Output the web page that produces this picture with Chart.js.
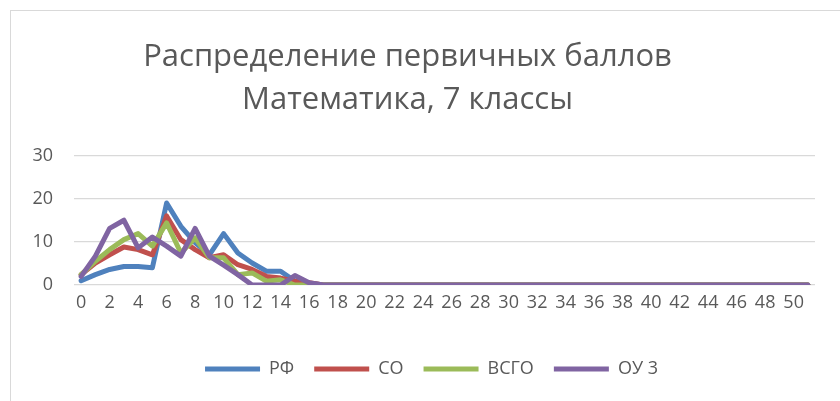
<!DOCTYPE html>
<html>
<head>
<meta charset="utf-8">
<script src="https://cdn.jsdelivr.net/npm/chart.js@4.4.1/dist/chart.umd.min.js"></script>
<style>
  html, body { margin: 0; padding: 0; background: #fff; }
  #wrap { position: relative; width: 840px; height: 401px; overflow: hidden; }
  #frame { position: absolute; left: 10px; top: 10px; width: 900px; height: 500px; border: 1px solid #d9d9d9; box-sizing: border-box; pointer-events: none; }
  canvas { position: absolute; left: 0; top: 0; }
</style>
</head>
<body>
<div id="wrap">
  <canvas id="c" width="840" height="401"></canvas>
  <div id="frame"></div>
</div>
<script>
const categories = Array.from({length: 52}, (_, i) => String(i));
const seriesNames = ['РФ', 'СО', 'ВСГО', 'ОУ 3'];
const rf   = [1.0, 2.4, 3.6, 4.3, 4.3, 4.0, 19.0, 13.6, 9.8, 7.0, 11.9, 7.4, 5.1, 3.2, 3.2, 0.9, 0.4, 0, 0, 0, 0, 0, 0, 0, 0, 0, 0, 0, 0, 0, 0, 0, 0, 0, 0, 0, 0, 0, 0, 0, 0, 0, 0, 0, 0, 0, 0, 0, 0, 0, 0, 0];
const so   = [2.4, 5.1, 7.0, 8.8, 8.2, 7.0, 16.0, 10.5, 8.2, 6.3, 7.0, 4.7, 3.6, 2.0, 1.6, 0.9, 0.5, 0, 0, 0, 0, 0, 0, 0, 0, 0, 0, 0, 0, 0, 0, 0, 0, 0, 0, 0, 0, 0, 0, 0, 0, 0, 0, 0, 0, 0, 0, 0, 0, 0, 0, 0];
const vsgo = [2.4, 5.5, 8.2, 10.5, 11.9, 9.0, 14.4, 7.4, 10.9, 6.3, 6.3, 2.4, 2.8, 0.9, 1.2, 0, 0, 0, 0, 0, 0, 0, 0, 0, 0, 0, 0, 0, 0, 0, 0, 0, 0, 0, 0, 0, 0, 0, 0, 0, 0, 0, 0, 0, 0, 0, 0, 0, 0, 0, 0, 0];
const ou3  = [2.0, 6.7, 13.1, 15.0, 8.6, 11.1, 9.0, 6.7, 13.1, 6.7, 4.6, 2.4, 0, 0, 0, 2.2, 0.5, 0, 0, 0, 0, 0, 0, 0, 0, 0, 0, 0, 0, 0, 0, 0, 0, 0, 0, 0, 0, 0, 0, 0, 0, 0, 0, 0, 0, 0, 0, 0, 0, 0, 0, 0];
const yTicks = [0, 10, 20, 30];
const titleLines = ['Распределение первичных баллов', 'Математика, 7 классы'];

const colors = ['#4f81bd', '#c0504d', '#9bbb59', '#8064a2'];
const values = [rf, so, vsgo, ou3];
const FONT = "'Open Sans', sans-serif";
const TXT = '#595959';

const datasets = seriesNames.map((name, k) => ({
  label: name,
  data: values[k],
  borderColor: colors[k],
  backgroundColor: colors[k],
  borderWidth: 5,
  borderCapStyle: 'round',
  borderJoinStyle: 'round',
  pointRadius: 0,
  pointHoverRadius: 0,
  tension: 0,
  fill: false,
  order: 4 - k
}));

const shiftLegend = {
  id: 'shiftLegend',
  afterLayout(chart) {
    if (chart.legend) { chart.legend.left += 24; chart.legend.right += 24; }
  }
};

new Chart(document.getElementById('c'), {
  type: 'line',
  data: { labels: categories, datasets },
  plugins: [shiftLegend],
  options: {
    responsive: false,
    animation: false,
    layout: { padding: { left: 0, right: 25, top: 0, bottom: 13 } },
    plugins: {
      title: {
        display: true,
        text: titleLines,
        color: TXT,
        font: { family: FONT, size: 31, weight: 'normal', lineHeight: 1.387 },
        padding: { top: 35.5, bottom: 34 }
      },
      legend: {
        position: 'bottom',
        labels: {
          color: TXT,
          font: { family: FONT, size: 18 },
          usePointStyle: true,
          pointStyle: 'line',
          pointStyleWidth: 55,
          boxHeight: 18,
          padding: 20,
          sort: (a, b) => a.datasetIndex - b.datasetIndex
        }
      },
      tooltip: { enabled: false }
    },
    scales: {
      x: {
        offset: true,
        grid: { display: false, drawTicks: false },
        border: { display: false },
        ticks: {
          color: TXT,
          font: { family: FONT, size: 18 },
          autoSkip: false,
          maxRotation: 0,
          padding: 7,
          callback: function(v, i) { return i % 2 === 0 ? categories[i] : ''; }
        },
        afterFit: s => { s.height = 55; }
      },
      y: {
        min: 0,
        max: 30,
        afterBuildTicks: s => { s.ticks = yTicks.map(v => ({ value: v })); },
        grid: { color: '#d9d9d9', lineWidth: 1.3, drawTicks: false },
        border: { display: false },
        ticks: {
          color: TXT,
          font: { family: FONT, size: 18 },
          padding: 21
        },
        afterFit: s => { s.width = 74; }
      }
    }
  }
});
</script>
</body>
</html>
